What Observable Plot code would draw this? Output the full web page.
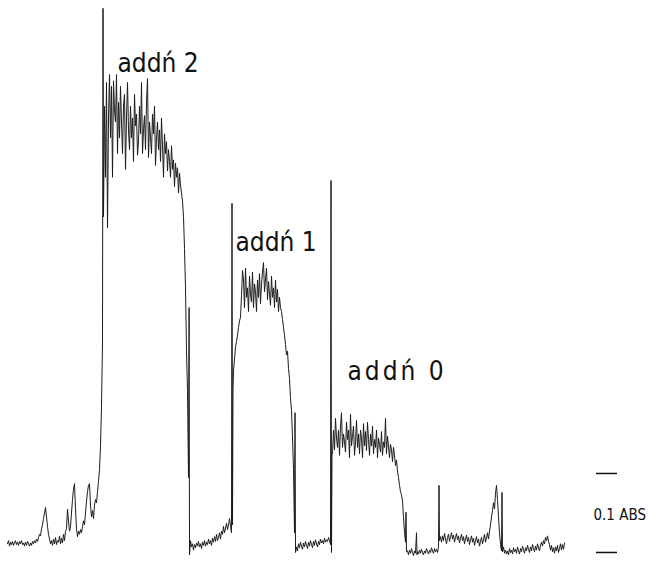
<!DOCTYPE html>
<html>
<head>
<meta charset="utf-8">
<script src="https://cdn.jsdelivr.net/npm/d3@7"></script>
<script src="https://cdn.jsdelivr.net/npm/@observablehq/plot@0.6"></script>
<style>
  html, body { margin: 0; padding: 0; background: #fff; }
  #chart svg { display: block; background: #fff; }
</style>
</head>
<body>
<div id="chart"></div>
<script>
// Absorbance trace: [time (chart units), absorbance (mABS)]
const baselineBefore = [
  [7,6],[8,10],[9,3],[10,8],[11,5],[12,9],[13,4],[14,7],[15,10],[16,5],[17,8],[18,4],[19,9],[20,6],
  [21,10],[22,5],[23,7],[24,3],[25,8],[26,4],[27,9],[28,6],[29,3],[30,7],[31,4],[32,9],[33,6],[34,10],
  [35,7],[36,12],[37,9],[38,14],[39,18],[40,16],[41,25],[42,30],[43,38],[44,45],[45,52],[46,40],[47,28],
  [48,18],[49,12],[50,6],[51,10],[52,4],[53,12],[54,6],[55,14],[56,5],[57,10],[58,8],[59,16],[60,6],
  [61,13],[62,7],[63,18],[64,10],[65,22],[66,25],[67,50],[68,35],[69,22],[70,28],[71,45],[72,62],[73,75],
  [74,82],[75,50],[76,25],[77,15],[78,22],[79,18],[80,24],[81,20],[82,28],[83,35],[84,30],[85,45],[86,60],
  [87,72],[88,80],[89,82],[90,55],[91,40],[92,48],[93,38],[94,55],[95,62],[96,58],[97,72],[98,85],[99,100],
  [100,130],[101,180],[102,260],[102.5,684],[103,420]
];
const addn2 = [
  [104,560],[105,470],[106,590],[107,406],[108,545],[109,600],[110,520],[111,585],[112,470],[113,592],
  [114,555],[115,540],[116,600],[117,500],[118,565],[119,520],[120,585],[121,540],[122,500],[123,560],
  [124,575],[125,480],[126,545],[127,590],[128,530],[129,505],[130,560],[131,520],[132,545],[133,490],
  [134,575],[135,535],[136,550],[137,498],[138,515],[139,560],[140,525],[141,590],[142,500],[143,530],
  [144,548],[145,505],[146,565],[147,595],[148,495],[149,540],[150,520],[151,500],[152,550],[153,525],
  [154,560],[155,485],[156,520],[157,540],[158,505],[159,530],[160,490],[161,545],[162,510],[163,470],
  [164,525],[165,500],[166,515],[167,478],[168,505],[169,490],[170,470],[171,510],[172,480],[173,492],
  [174,458],[175,488],[176,470],[177,482],[178,450],[179,475],[180,460],[181,450],[182,440],[183,420],
  [184,380],[185,330],[186,250],[187,200],[188,90],[188.6,305],[189,-8],[190,10]
];
const washout1 = [
  [191,2],[192,6],[193,-2],[194,5],[195,1],[196,7],[197,3],[198,9],[199,2],[200,6],[201,0],[202,8],
  [203,4],[204,10],[205,3],[206,8],[207,5],[208,12],[209,6],[210,10],[211,4],[212,13],[213,8],[214,15],
  [215,9],[216,18],[217,10],[218,14],[219,20],[220,12],[221,22],[222,18],[223,28],[224,20],[225,25],
  [226,32],[227,24],[228,30],[229,38],[230,28],[231,20],[231.5,437],[232,30]
];
const addn1 = [
  [232.5,200],[233,225],[234,240],[235,255],[236,262],[237,270],[238,280],[239,288],[240,293],[241,320],
  [242,352],[243,340],[244,305],[245,355],[246,318],[247,330],[248,300],[249,345],[250,322],[251,312],
  [252,350],[253,305],[254,335],[255,325],[256,300],[257,340],[258,318],[259,348],[260,310],[261,335],
  [262,350],[263,362],[264,325],[265,340],[266,355],[267,315],[268,338],[269,322],[270,308],[271,345],
  [272,318],[273,330],[274,305],[275,340],[276,312],[277,328],[278,300],[279,318],[280,305],[281,300],
  [282,290],[283,280],[284,270],[285,258],[286,245],[287,250],[288,228],[289,215],[290,190],[291,175],
  [292,140],[293,100],[293.5,60],[294,20],[294.5,172],[295,-5]
];
const washout2 = [
  [296,2],[297,-3],[298,6],[299,1],[300,8],[301,3],[302,-1],[303,7],[304,2],[305,9],[306,4],[307,0],
  [308,8],[309,3],[310,10],[311,5],[312,1],[313,9],[314,4],[315,11],[316,6],[317,2],[318,9],[319,5],
  [320,12],[321,7],[322,10],[323,6],[324,13],[325,8],[326,11],[327,9],[328,14],[329,10],[330,5],
  [330.5,466],[331,-5],[331.5,120]
];
const addn0 = [
  [332,120],[333,150],[334,125],[335,165],[336,140],[337,128],[338,150],[339,118],[340,155],[341,172],
  [342,128],[343,145],[344,135],[345,122],[346,160],[347,138],[348,150],[349,115],[350,170],[351,130],
  [352,142],[353,155],[354,118],[355,135],[356,162],[357,128],[358,145],[359,120],[360,150],[361,140],
  [362,115],[363,158],[364,130],[365,148],[366,124],[367,160],[368,138],[369,118],[370,145],[371,130],
  [372,155],[373,120],[374,138],[375,128],[376,150],[377,115],[378,140],[379,132],[380,122],[381,148],
  [382,118],[383,135],[384,128],[385,165],[386,120],[387,142],[388,130],[389,115],[390,132],[391,125],
  [392,110],[393,128],[394,118],[395,105],[396,112],[397,98],[398,90],[399,80],[400,72],[401,68],
  [402,60],[403,40],[404,20],[405,8],[405.5,46],[406,-4]
];
const washout3 = [
  [407,-3],[408,-8],[409,-2],[410,-6],[411,0],[412,-5],[413,-9],[414,-3],[415,-6],[416,20],[416.5,-8],
  [417,-4],[418,-7],[419,-2],[420,-6],[421,-1],[422,-5],[423,-8],[424,-3],[425,-6],[426,0],[427,-4],
  [428,-7],[429,-2],[430,-5],[431,1],[432,-3],[433,-6],[434,0],[435,-4],[436,-1],[437,-5],[438,2],
  [438.5,80],[439,10],[440,15],[441,8],[442,16],[443,10],[444,19],[445,12],[446,6],[447,14],[448,18],
  [449,9],[450,15],[451,20],[452,12],[453,17],[454,8],[455,14],[456,19],[457,11],[458,16],[459,7],
  [460,13],[461,18],[462,10],[463,15],[464,6],[465,12],[466,17],[467,9],[468,14],[469,5],[470,11],
  [471,16],[472,8],[473,13],[474,4],[475,10],[476,15],[477,7],[478,12],[479,3],[480,9],[481,14],[482,6],
  [483,11],[484,18],[485,8],[486,13],[487,20],[488,12],[489,22],[490,30],[491,40],[492,48],[493,58],
  [494,50],[495,70],[496,80],[497,62],[498,40],[499,20],[500,5],[501,-3],[501.5,71],[502,-4],[503,2],
  [504,-6],[505,-2],[506,-7],[507,-3],[508,-8],[509,0],[510,-5],[511,-2],[512,-7],[513,1],[514,-4],
  [515,-1],[516,-6],[517,2],[518,-3],[519,-7],[520,0],[521,-4],[522,3],[523,-2],[524,-6],[525,1],
  [526,-3],[527,4],[528,-1],[529,-5],[530,2],[531,-3],[532,5],[533,0],[534,-4],[535,3],[536,-2],[537,6],
  [538,1],[539,-3],[540,4],[541,8],[542,3],[543,10],[544,6],[545,14],[546,10],[547,16],[548,9],[549,5],
  [550,-2],[551,4],[552,-4],[553,1],[554,-6],[555,2],[556,-3],[557,4],[558,-5],[559,0],[560,6],[561,-2],
  [562,5],[563,-1],[564,7]
];

// Annotations
const labelText = ["addń 2", "addń 1", "addń 0"];
const labelTime = [117, 235, 347];
const labelAbs  = [603, 377, 213];   // mABS at label baseline

// Scale bar: 0.1 ABS
const scaleBarAbs  = [-5, 95];        // mABS (span = 100 mABS = 0.1 ABS)
const scaleBarTime = [596, 617];
const scaleBarLabel = "0.1 ABS";
const scaleBarLabelTime = 593;

const trace = [...baselineBefore, ...addn2, ...washout1, ...addn1, ...washout2, ...addn0, ...washout3]
  .map(([t, a]) => ({t, a}));
const labels = labelText.map((s, i) => ({s, t: labelTime[i], a: labelAbs[i]}));
const bar = scaleBarAbs.map(a => ({a}));

const chart = Plot.plot({
  width: 649,
  height: 562,
  margin: 0,
  x: {domain: [0, 649], axis: null},
  y: {domain: [-17.7, 693.8], axis: null},
  style: {background: "#fff"},
  marks: [
    Plot.line(trace, {x: "t", y: "a", stroke: "#1c1c1c", strokeWidth: 1, strokeLinejoin: "miter"}),
    Plot.text(labels, {x: "t", y: "a", text: "s", textAnchor: "start", lineAnchor: "bottom",
      fontSize: 26, fontFamily: "DejaVu Sans Condensed, DejaVu Sans", fill: "#111"}),
    Plot.ruleY(bar, {y: "a", x1: scaleBarTime[0], x2: scaleBarTime[1], stroke: "#111", strokeWidth: 1.5}),
    Plot.text([scaleBarLabel], {x: scaleBarLabelTime, y: (scaleBarAbs[0] + scaleBarAbs[1]) / 2 - 3,
      text: d => d, textAnchor: "start", fontSize: 15, fontFamily: "DejaVu Sans Condensed, DejaVu Sans", fill: "#111"})
  ]
});
document.getElementById("chart").appendChild(chart);
d3.select(chart).selectAll("text").style("font-stretch", "condensed");
d3.select(chart).selectAll("text").filter(function () { return this.textContent === "addń 0"; })
  .style("letter-spacing", "3px");
</script>
</body>
</html>
